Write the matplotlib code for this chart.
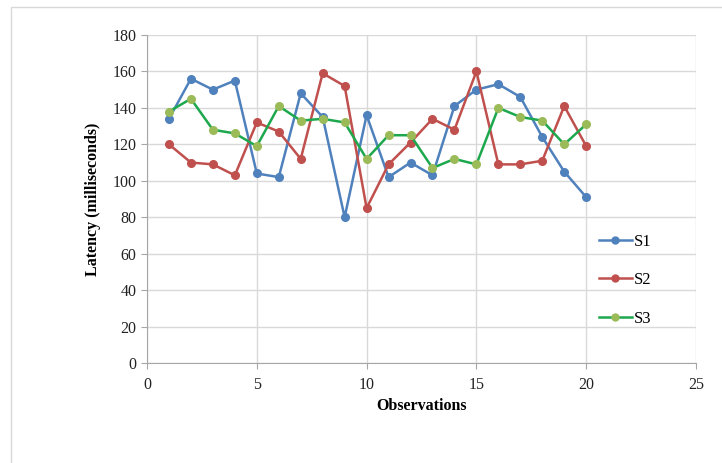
import matplotlib
matplotlib.use("Agg")
import matplotlib.pyplot as plt
from matplotlib.patches import Rectangle

# Latency per observation for each series
observations = list(range(1, 21))
s1 = [134, 156, 150, 155, 104, 102, 148, 135, 80, 136,
      102, 110, 103, 141, 150, 153, 146, 124, 105, 91]
s2 = [120, 110, 109, 103, 132, 127, 112, 159, 152, 85,
      109, 121, 134, 128, 160, 109, 109, 111, 141, 119]
s3 = [138, 145, 128, 126, 119, 141, 133, 134, 132, 112,
      125, 125, 107, 112, 109, 140, 135, 133, 120, 131]
series_names = ["S1", "S2", "S3"]

x_ticks = [0, 5, 10, 15, 20, 25]
y_ticks = [0, 20, 40, 60, 80, 100, 120, 140, 160, 180]

plt.rcParams["font.family"] = ["Liberation Serif", "DejaVu Serif"]

fig = plt.figure(figsize=(7.22, 4.63), dpi=100)
W, H = 722, 463
ax = fig.add_axes([147 / W, 1 - 363 / H, (696 - 147) / W, (363 - 35) / H])

# light frame around the whole chart
fig.patches.append(Rectangle((10.5 / W, -0.05), 1.2, 1 - 6.5 / H + 0.05,
                             transform=fig.transFigure, fill=False,
                             edgecolor="#d9d9d9", linewidth=1.0))

styles = [
    dict(color="#4F81BD", mfc="#4F81BD", mec="#4F81BD"),
    dict(color="#C0504D", mfc="#C0504D", mec="#C0504D"),
    dict(color="#1DA84E", mfc="#9BBB59", mec="#9BBB59"),
]
for ys, name, st in zip([s1, s2, s3], series_names, styles):
    ax.plot(observations, ys, marker="o", markersize=5.5, linewidth=1.8,
            label=name, color=st["color"], markerfacecolor=st["mfc"],
            markeredgecolor=st["mec"], zorder=3)

ax.set_xlim(0, 25)
ax.set_ylim(0, 180)
ax.set_xticks(x_ticks)
ax.set_yticks(y_ticks)
ax.grid(True, color="#d9d9d9", linewidth=1.0, zorder=0)
ax.set_axisbelow(True)
for side in ["top", "right"]:
    ax.spines[side].set_visible(False)
for side in ["left", "bottom"]:
    ax.spines[side].set_color("#a6a6a6")
ax.tick_params(axis="both", colors="#a6a6a6", labelcolor="#222222",
               labelsize=11.5, length=4, direction="out")
ax.tick_params(axis="x", pad=6)

ax.set_xlabel("Observations", fontsize=11.5, fontweight="bold", labelpad=4)
ax.set_ylabel("Latency (milliseconds)", fontsize=11.5, fontweight="bold",
              labelpad=8)

leg = ax.legend(loc="center left", bbox_to_anchor=(445 / 549, 0.253),
                frameon=False, fontsize=12, labelspacing=1.35,
                handlelength=2.0, handletextpad=0.1, borderaxespad=0)
for line in leg.get_lines():
    line.set_markersize(5)
    line.set_linewidth(1.8)

fig.savefig("out.png", dpi=100, facecolor="white")
